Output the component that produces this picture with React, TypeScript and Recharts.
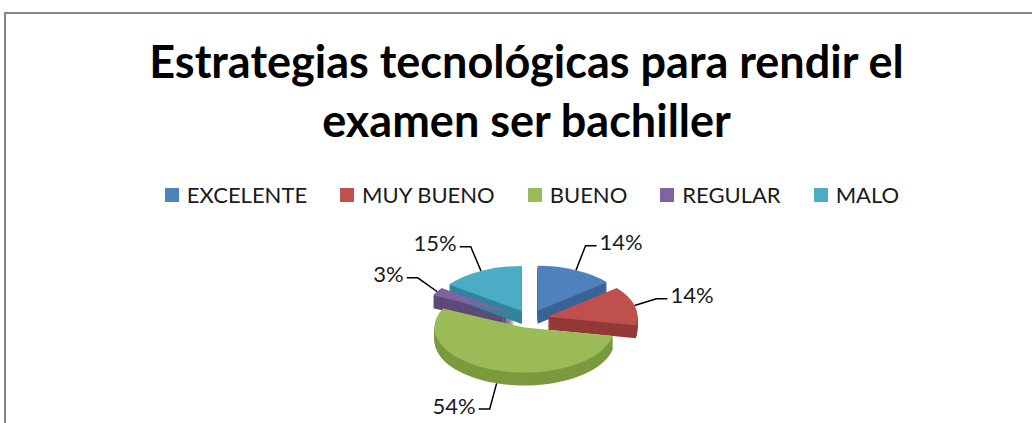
import React from 'react';
import { PieChart, Pie, Legend } from 'recharts';

const categories = ['EXCELENTE', 'MUY BUENO', 'BUENO', 'REGULAR', 'MALO'];
const values = [14, 14, 54, 3, 15];
const percentLabels = ['14%', '14%', '54%', '3%', '15%'];
const topColors = ['#4f81bd', '#c0504d', '#9bbb59', '#8064a2', '#4bacc6'];
const sideColors = ['#3b6396', '#943937', '#7b9a3e', '#5f497a', '#31859c'];

const data = categories.map((name, i) => ({ name, value: values[i] }));

const FONT = 'Lato, "Open Sans", sans-serif';
const TILT = 0.5; // vertical squash of the pie
const DEPTH = 13; // thickness of the 3d rim
const EXPLODE = 18; // how far each slice is pulled out
const RAD = Math.PI / 180;

// ellipse geometry of one slice, from the angles recharts computed
const sliceGeom = (p: any) => {
  const { cx, cy, outerRadius, startAngle, endAngle, midAngle } = p;
  const rx = outerRadius;
  const ry = outerRadius * TILT;
  const ox = cx + EXPLODE * Math.cos(midAngle * RAD);
  const oy = cy - EXPLODE * TILT * Math.sin(midAngle * RAD);
  const pt = (a: number) => [ox + rx * Math.cos(a * RAD), oy - ry * Math.sin(a * RAD)];
  const [sx, sy] = pt(startAngle);
  const [ex, ey] = pt(endAngle);
  const large = Math.abs(startAngle - endAngle) > 180 ? 1 : 0;
  const d = `M${ox},${oy} L${sx},${sy} A${rx},${ry} 0 ${large} 1 ${ex},${ey} Z`;
  return { d, ox, oy, rx, ry, pt };
};

const renderSide = (p: any) => {
  const { d } = sliceGeom(p);
  const layers = [];
  for (let k = DEPTH; k >= 1; k--) {
    layers.push(<path key={k} d={d} transform={`translate(0,${k})`} fill={sideColors[p.index]} stroke="none" />);
  }
  return <g key={`side-${p.index}`}>{layers}</g>;
};

const renderTop = (p: any) => {
  const { d, pt } = sliceGeom(p);
  const m = p.midAngle;
  const cos = Math.cos(m * RAD);
  const sin = Math.sin(m * RAD);
  const [ax, ay0] = pt(m);
  const ay = sin < 0 ? ay0 + DEPTH : ay0;
  const bx = p.cx + 1.45 * p.outerRadius * cos;
  const by = p.cy - 1.8 * p.outerRadius * TILT * sin + (sin < 0 ? DEPTH : 0);
  const dir = cos >= 0 ? 1 : -1;
  const hx = bx + dir * 11;
  return (
    <g key={`top-${p.index}`}>
      <path d={d} fill={topColors[p.index]} stroke="none" />
      <polyline points={`${ax},${ay} ${bx},${by} ${hx},${by}`} fill="none" stroke="#000" strokeWidth={1.5} />
      <text
        x={hx + dir * 3}
        y={by - 4}
        textAnchor={dir > 0 ? 'start' : 'end'}
        dominantBaseline="central"
        fontFamily={FONT}
        fontSize={22}
        fill="#1a1a1a"
      >
        {percentLabels[p.index]}
      </text>
    </g>
  );
};

const LegendContent = () => (
  <div style={{ display: 'flex', justifyContent: 'center', gap: 33, fontFamily: FONT, fontSize: 22, color: '#1a1a1a' }}>
    {categories.map((c, i) => (
      <div key={c} style={{ display: 'flex', alignItems: 'center' }}>
        <div style={{ width: 14, height: 14, background: topColors[i], marginRight: 8 }} />
        <span>{c}</span>
      </div>
    ))}
  </div>
);

export default function App() {
  return (
    <div style={{ position: 'relative', width: 1032, height: 423, background: '#fff', overflow: 'hidden' }}>
      <style>{'body{margin:0}'}</style>
      <div
        style={{
          position: 'absolute',
          left: 4,
          top: 12,
          width: 1040,
          height: 420,
          borderTop: '2px solid #868686',
          borderLeft: '2px solid #868686',
        }}
      />
      <div
        style={{
          position: 'absolute',
          left: 0,
          top: 32,
          width: 1053,
          textAlign: 'center',
          fontFamily: FONT,
          fontWeight: 700,
          fontSize: 45,
          lineHeight: '59px',
          color: '#000',
        }}
      >
        Estrategias tecnológicas para rendir el
        <br />
        examen ser bachiller
      </div>
      <div style={{ position: 'absolute', left: 0, top: 0 }}>
        <PieChart width={1032} height={423}>
          <Legend content={<LegendContent />} wrapperStyle={{ top: 181, left: 16, width: 1032 }} />
          <Pie
            data={data}
            dataKey="value"
            nameKey="name"
            cx={525}
            cy={314}
            outerRadius={90}
            startAngle={90}
            endAngle={-270}
            fill="transparent"
            stroke="none"
            legendType="none"
            labelLine={false}
            label={renderSide}
            isAnimationActive={false}
          />
          <Pie
            data={data}
            dataKey="value"
            nameKey="name"
            cx={525}
            cy={314}
            outerRadius={90}
            startAngle={90}
            endAngle={-270}
            fill="transparent"
            stroke="none"
            legendType="none"
            labelLine={false}
            label={renderTop}
            isAnimationActive={false}
          />
        </PieChart>
      </div>
    </div>
  );
}
